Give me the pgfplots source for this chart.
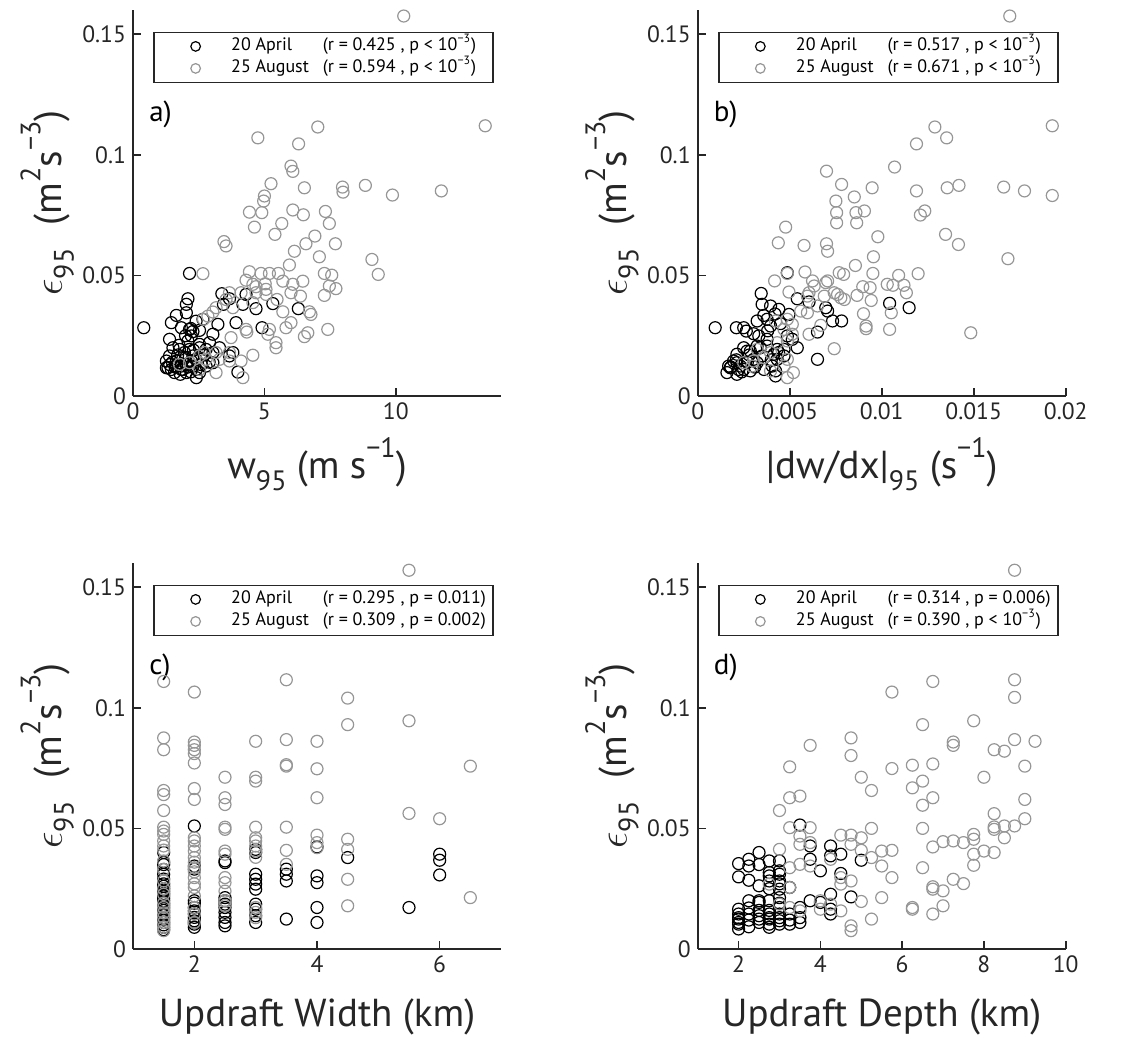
\documentclass[border=0pt]{standalone}
\usepackage{fontspec}
\setmainfont{PT Sans}
\usepackage{pgfplots}
\pgfplotsset{compat=1.18}

\definecolor{axgray}{RGB}{38,38,38}
\definecolor{ptgray}{RGB}{150,150,150}

\newcommand{\lsub}[1]{\raisebox{-0.3em}{\fontsize{14}{14}\selectfont #1}}
\newcommand{\lsup}[1]{\raisebox{0.55em}{\fontsize{14}{14}\selectfont #1}}
\newcommand{\ylab}{$\epsilon$\lsub{95}\hspace{0.6em}(m\lsup{2}s\lsup{−3})}
\newcommand{\ent}[2]{\makebox[128pt][l]{\makebox[45.8pt][l]{#1}#2}}

\pgfplotsset{
  panel/.style={
    scale only axis, width=184pt, height=193pt,
    axis lines=left, axis line style={-, axgray, line width=0.8pt},
    tick align=inside, major tick length=4pt,
    tick style={axgray, line width=0.8pt},
    scaled ticks=false,
    ymin=0, ymax=0.16, ytick={0,0.05,0.1,0.15}, yticklabels={0,0.05,0.1,0.15},
    tick label style={font=\fontsize{11.8}{12}\selectfont, text=axgray},
    label style={font=\fontsize{19.5}{20}\selectfont, text=axgray},
    xlabel style={at={(axis description cs:0.5,-0.176)}, anchor=center},
    ylabel style={at={(axis description cs:-0.233,0.5)}, anchor=center},
    ylabel={\ylab},
    legend style={at={(axis description cs:0.055,0.944)}, anchor=north west,
      draw=axgray, line width=0.8pt, fill=white, inner xsep=0pt, inner ysep=1.5pt,
      row sep=0pt, font=\fontsize{9}{10}\selectfont, text=black,
      nodes={inner xsep=3pt, inner ysep=0pt, text height=7.5pt, text depth=3.5pt},
      /tikz/every even column/.append style={column sep=0pt}},
    legend cell align=left,
    legend image code/.code={\path (0pt,0pt) (35pt,0pt);
      \draw[##1, mark size=2.4pt] plot coordinates {(20.5pt,0pt)};},
  },
  apr/.style={only marks, mark=o, mark size=3pt, black, line width=0.6pt},
  aug/.style={only marks, mark=o, mark size=3pt, ptgray, line width=0.6pt},
}

\begin{document}
\begin{tikzpicture}
\useasboundingbox (0,0) rectangle (572.5pt,-518.5pt);

% a) w95
\begin{axis}[panel, at={(66.5pt,-5pt)}, anchor=north west,
  xmin=0, xmax=14, xtick={0,5,10}, xticklabels={0,5,10},
  xlabel={w\lsub{95} (m s\lsup{−1})}]
\addplot[apr] coordinates {
(0.41,0.0283) (2.15,0.0508) (2.09,0.0403) (2.03,0.038) (3.38,0.0424) (3.67,0.0403)
(3.44,0.038) (4.18,0.038) (4.3,0.0421) (4.68,0.0362) (5.32,0.0383) (6.29,0.0362)
(4.91,0.0283) (1.65,0.0334) (1.46,0.0304) (2.03,0.0345) (1.84,0.0283) (2.15,0.0276)
(2.28,0.0267) (2.53,0.0272) (2.22,0.0249) (2.66,0.0318) (3.04,0.0256) (3.23,0.0297)
(3.92,0.0304) (3.8,0.018) (3.99,0.0099) (3.29,0.020) (2.91,0.0221) (2.53,0.0214)
(1.52,0.020) (1.77,0.0193) (1.39,0.0166) (1.27,0.0145) (1.33,0.0117) (1.58,0.0097)
(1.84,0.011) (2.03,0.0131) (2.28,0.0166) (2.22,0.0145) (2.41,0.011) (2.41,0.0076)
(1.96,0.018) (2.78,0.0124) (3.04,0.0138) (1.65,0.0145) (1.9,0.0159) (1.27,0.0117)
(1.46,0.011) (2.15,0.0193) (2.53,0.0097) (2.03,0.0097) (1.84,0.0124) (2.28,0.0124)
(3.04,0.018) (2.78,0.0193) (1.65,0.0124) (1.39,0.0235) (2.53,0.020) (2.09,0.0228)
(3.67,0.0166) (1.6,0.012) (1.9,0.011) (2.2,0.010) (2.0,0.016) (1.7,0.017)
(2.4,0.015) (2.6,0.013) (1.5,0.014) (2.1,0.012) (1.8,0.009) (2.3,0.019)
(1.4,0.013) (2.7,0.017) (2.0,0.025) (2.4,0.031) (2.9,0.014) (1.75,0.021) (2.2,0.028)
};
\addlegendentry{\ent{20 April}{(r = 0.425 , p < 10\textsuperscript{−3})}}
\addplot[aug] coordinates {
(10.3,0.1575) (13.4,0.112) (7.03,0.1115) (4.75,0.107) (6.3,0.1045) (6.01,0.0953)
(6.08,0.0931) (5.25,0.088) (8.84,0.0873) (7.97,0.0866) (7.99,0.0845) (6.52,0.0863)
(11.73,0.085) (9.87,0.0833) (5.0,0.0829) (4.97,0.0808) (4.43,0.0762) (4.9,0.076)
(6.08,0.0771) (6.48,0.0751) (7.32,0.0765) (5.66,0.0715) (7.47,0.0715) (4.62,0.070)
(5.4,0.067) (6.92,0.0663) (3.46,0.064) (3.54,0.0622) (6.58,0.0631) (7.7,0.0631)
(6.14,0.060) (7.09,0.0577) (9.09,0.0566) (5.95,0.0543) (2.66,0.0507) (4.43,0.0515)
(4.87,0.0508) (5.19,0.0508) (5.53,0.0508) (7.28,0.0508) (7.56,0.0501) (9.33,0.0504)
(4.3,0.048) (4.56,0.0463) (4.68,0.0453) (5.03,0.0465) (5.7,0.0476) (6.08,0.0463)
(6.46,0.0476) (7.47,0.0456) (7.72,0.0445) (6.01,0.0428) (6.37,0.0414) (7.28,0.0417)
(5.06,0.0421) (5.06,0.0442) (4.68,0.0428) (4.56,0.0387) (4.11,0.0428) (5.48,0.040)
(5.7,0.0349) (6.71,0.0349) (6.77,0.0338) (3.67,0.0428) (3.54,0.040) (3.8,0.0366)
(3.16,0.0366) (3.04,0.0348) (2.85,0.0331) (2.68,0.0318) (6.01,0.0304) (5.82,0.0283)
(7.41,0.0276) (4.3,0.0276) (4.33,0.0265) (5.19,0.0276) (5.13,0.0256) (6.65,0.0262)
(6.52,0.0246) (5.44,0.0221) (5.44,0.020) (3.73,0.0242) (3.67,0.018) (4.56,0.0169)
(2.72,0.018) (2.53,0.0166) (2.78,0.0152) (3.16,0.018) (3.29,0.0152) (4.11,0.0145)
(3.67,0.0145) (3.16,0.0097) (4.18,0.0076) (2.53,0.011) (2.15,0.0138) (1.77,0.0131)
};
\addlegendentry{\ent{25 August}{(r = 0.594 , p < 10\textsuperscript{−3})}}
\node[anchor=west, font=\fontsize{14.5}{15}\selectfont] at (axis description cs:0.025,0.73) {a)};
\end{axis}

% b) |dw/dx|95
\begin{axis}[panel, at={(348.85pt,-5pt)}, anchor=north west,
  xmin=0, xmax=0.02, xtick={0,0.005,0.01,0.015,0.02},
  xticklabels={0,0.005,0.01,0.015,0.02},
  xlabel={|dw/dx|\lsub{95} (s\lsup{−1})}]
\addplot[apr] coordinates {
(0.00095,0.0283) (0.00487,0.0511) (0.00345,0.0425) (0.0021,0.0283) (0.0025,0.0283)
(0.00264,0.0269) (0.00304,0.0258) (0.0035,0.038) (0.00396,0.0373) (0.00441,0.0359)
(0.00496,0.0338) (0.00359,0.0334) (0.00377,0.0318) (0.00541,0.0403) (0.00605,0.039)
(0.00696,0.0366) (0.00706,0.0352) (0.00733,0.0311) (0.00782,0.0311) (0.01043,0.0384)
(0.01149,0.0366) (0.00651,0.0265) (0.00651,0.0152) (0.00541,0.020) (0.00514,0.0235)
(0.00432,0.0193) (0.00414,0.0173) (0.00432,0.0152) (0.00405,0.0124) (0.00423,0.0104)
(0.00423,0.0083) (0.00159,0.0097) (0.00168,0.0124) (0.00195,0.0145) (0.00213,0.0173)
(0.00222,0.011) (0.0025,0.011) (0.00286,0.0104) (0.0025,0.020) (0.00286,0.0186)
(0.00323,0.0207) (0.00213,0.0138) (0.00323,0.0138) (0.0035,0.0166) (0.00377,0.0207)
(0.00177,0.0117) (0.00377,0.0235) (0.00332,0.0249) (0.00268,0.0186) (0.00213,0.009)
(0.00469,0.0193) (0.00469,0.0166) (0.00487,0.0249) (0.00396,0.029) (0.00323,0.0311)
(0.00304,0.0152) (0.00232,0.0124) (0.0018,0.012) (0.0024,0.010) (0.0027,0.014)
(0.0031,0.012) (0.0036,0.011) (0.0040,0.015) (0.0044,0.018) (0.0028,0.017)
(0.0034,0.020) (0.0038,0.027) (0.0045,0.030) (0.0021,0.015) (0.0042,0.034)
};
\addlegendentry{\ent{20 April}{(r = 0.517 , p < 10\textsuperscript{−3})}}
\addplot[aug] coordinates {
(0.01696,0.1575) (0.01927,0.112) (0.01289,0.1115) (0.01353,0.107) (0.01189,0.1045)
(0.0107,0.0949) (0.0070,0.0932) (0.00782,0.0877) (0.00948,0.0863) (0.00851,0.0825)
(0.01189,0.085) (0.01356,0.0863) (0.0142,0.0873) (0.01663,0.0866) (0.01776,0.085)
(0.01927,0.0831) (0.00751,0.0808) (0.00755,0.076) (0.00755,0.0718) (0.0086,0.076)
(0.00906,0.0767) (0.00864,0.0718) (0.0121,0.075) (0.01234,0.0767) (0.00478,0.070)
(0.00438,0.0635) (0.00578,0.0624) (0.0070,0.0631) (0.00706,0.060) (0.00979,0.066)
(0.01347,0.067) (0.01417,0.0628) (0.01686,0.0569) (0.00955,0.0577) (0.00857,0.0541)
(0.00583,0.0514) (0.00487,0.0508) (0.00769,0.0511) (0.00793,0.0504) (0.00952,0.0508)
(0.0103,0.0463) (0.01061,0.0459) (0.01092,0.050) (0.01121,0.0459) (0.01134,0.0428)
(0.01198,0.0507) (0.00418,0.0477) (0.00496,0.0431) (0.00596,0.0414) (0.00605,0.0428)
(0.00624,0.0477) (0.00633,0.0456) (0.00696,0.047) (0.00706,0.0477) (0.00688,0.0414)
(0.00742,0.0428) (0.00778,0.0407) (0.0076,0.0421) (0.00866,0.0417) (0.00897,0.0453)
(0.00937,0.0449) (0.00943,0.0396) (0.00901,0.0341) (0.00915,0.029) (0.00915,0.0279)
(0.01043,0.0276) (0.01052,0.0345) (0.01484,0.0262) (0.00742,0.0196) (0.00605,0.0256)
(0.00596,0.0345) (0.00651,0.0373) (0.0056,0.0352) (0.00487,0.0318) (0.00514,0.0297)
(0.00423,0.0311) (0.00469,0.0276) (0.00514,0.0256) (0.00487,0.0228) (0.00432,0.0221)
(0.00396,0.018) (0.00359,0.0159) (0.00323,0.0193) (0.00304,0.0145) (0.00487,0.0152)
(0.00469,0.0124) (0.00487,0.0076) (0.0052,0.0097) (0.00295,0.0124) (0.0025,0.0138)
(0.00396,0.0104) (0.00669,0.0293) (0.00797,0.040)
};
\addlegendentry{\ent{25 August}{(r = 0.671 , p < 10\textsuperscript{−3})}}
\node[anchor=west, font=\fontsize{14.5}{15}\selectfont] at (axis description cs:0.025,0.73) {b)};
\end{axis}

% c) updraft width
\begin{axis}[panel, at={(66.5pt,-281.5pt)}, anchor=north west,
  xmin=1, xmax=7, xtick={2,4,6}, xticklabels={2,4,6},
  xlabel={Updraft Width (km)}]
\addplot[apr] coordinates {
(1.5,0.040) (1.5,0.036) (1.5,0.035) (1.5,0.031) (1.5,0.029) (1.5,0.027) (1.5,0.025)
(1.5,0.023) (1.5,0.021) (1.5,0.019) (1.5,0.017) (1.5,0.015) (1.5,0.013) (1.5,0.012)
(1.5,0.011) (1.5,0.010) (1.5,0.009) (1.5,0.008) (1.5,0.033) (1.5,0.026) (1.5,0.014)
(1.5,0.016) (1.5,0.018) (1.5,0.020) (1.5,0.022) (1.5,0.024)
(2,0.051) (2,0.0344) (2,0.0331) (2,0.020) (2,0.0172) (2,0.0158) (2,0.0145) (2,0.0131)
(2,0.0117) (2,0.0103) (2,0.009) (2,0.019) (2,0.011)
(2.5,0.0365) (2.5,0.0358) (2.5,0.0213) (2.5,0.020) (2.5,0.0186) (2.5,0.0172)
(2.5,0.0152) (2.5,0.0131) (2.5,0.011) (2.5,0.0096)
(3,0.0413) (3,0.040) (3,0.031) (3,0.0289) (3,0.0269) (3,0.0248) (3,0.0186) (3,0.0165)
(3,0.0138) (3,0.011)
(3.5,0.0331) (3.5,0.031) (3.5,0.0282) (3.5,0.0124)
(4,0.0423) (4,0.0303) (4,0.0275) (4,0.0172) (4,0.011)
(4.5,0.0379) (5.5,0.0172) (6,0.0393) (6,0.0368) (6,0.0307)
};
\addlegendentry{\ent{20 April}{(r = 0.295 , p = 0.011)}}
\addplot[aug] coordinates {
(1.5,0.1109) (1.5,0.0875) (1.5,0.0826) (1.5,0.0657) (1.5,0.064) (1.5,0.0574)
(1.5,0.0505) (1.5,0.0489) (1.5,0.0475) (1.5,0.0448) (1.5,0.0427) (1.5,0.0365)
(1.5,0.0282) (1.5,0.0227) (1.5,0.0172) (1.5,0.0131) (1.5,0.0076) (1.5,0.033)
(1.5,0.025) (1.5,0.019) (1.5,0.015) (1.5,0.011) (1.5,0.009) (1.5,0.041)
(2,0.1065) (2,0.0858) (2,0.0844) (2,0.0826) (2,0.081) (2,0.0771) (2,0.0665) (2,0.062)
(2,0.0461) (2,0.0448) (2,0.0427) (2,0.0406) (2,0.0379) (2,0.0337) (2,0.0296)
(2,0.0255) (2,0.0145) (2,0.036) (2,0.032) (2,0.027) (2,0.022) (2,0.017) (2,0.011)
(2.5,0.0712) (2.5,0.0627) (2.5,0.0599) (2.5,0.0505) (2.5,0.0496) (2.5,0.0406)
(2.5,0.0393) (2.5,0.0296) (2.5,0.0275) (2.5,0.020) (2.5,0.018) (2.5,0.024)
(3,0.0861) (3,0.0712) (3,0.0696) (3,0.0505) (3,0.0461) (3,0.0448) (3,0.0427)
(3,0.0406) (3,0.0172) (3,0.0152) (3,0.038) (3,0.013)
(3.5,0.1116) (3.5,0.0868) (3.5,0.0764) (3.5,0.0758) (3.5,0.0505) (3.5,0.0409) (3.5,0.0351)
(4,0.0861) (4,0.0747) (4,0.0627) (4,0.0472) (4,0.0441) (4,0.042)
(4.5,0.104) (4.5,0.093) (4.5,0.0455) (4.5,0.0413) (4.5,0.0289) (4.5,0.0179)
(5.5,0.157) (5.5,0.0946) (5.5,0.0562) (6,0.054) (6.5,0.0758) (6.5,0.0213)
};
\addlegendentry{\ent{25 August}{(r = 0.309 , p = 0.002)}}
\node[anchor=west, font=\fontsize{14.5}{15}\selectfont] at (axis description cs:0.025,0.73) {c)};
\end{axis}

% d) updraft depth
\begin{axis}[panel, at={(348.85pt,-281.5pt)}, anchor=north west,
  xmin=1, xmax=10, xtick={2,4,6,8,10}, xticklabels={2,4,6,8,10},
  xlabel={Updraft Depth (km)}]
\addplot[apr] coordinates {
(2.0,0.0354) (2.0,0.0299) (2.0,0.0165) (2.0,0.0145) (2.0,0.0124) (2.0,0.0103) (2.0,0.0083)
(2.25,0.0372) (2.25,0.0344) (2.25,0.0285) (2.25,0.020) (2.25,0.0145) (2.25,0.0092)
(2.5,0.040) (2.5,0.0262) (2.5,0.020) (2.5,0.0193) (2.5,0.0138) (2.5,0.0124)
(2.75,0.0365) (2.75,0.0317) (2.75,0.0303) (2.75,0.0282) (2.75,0.020) (2.75,0.0145)
(2.75,0.0124) (2.75,0.0103) (2.75,0.009)
(3.0,0.0365) (3.0,0.0324) (3.0,0.031) (3.0,0.0282) (3.0,0.0248) (3.0,0.0213)
(3.0,0.0172) (3.0,0.0145) (3.0,0.0117) (3.0,0.0103)
(3.25,0.0255) (3.25,0.0145) (3.25,0.0103) (3.5,0.0514) (3.5,0.0172) (3.5,0.011)
(3.75,0.0427) (3.75,0.0372) (3.75,0.020) (4.0,0.0324) (4.0,0.0193)
(4.25,0.0427) (4.25,0.0386) (4.25,0.0227) (4.25,0.0165) (4.25,0.0145)
(4.5,0.0393) (4.5,0.0313) (4.75,0.0216) (5.0,0.0368)
(2.0,0.013) (2.25,0.012) (2.5,0.016) (2.75,0.016) (3.0,0.013) (2.5,0.011) (2.25,0.017)
(3.25,0.012) (2.0,0.011) (3.0,0.019) (2.75,0.013) (2.5,0.035) (3.0,0.027) (2.75,0.025)
(3.5,0.013)
};
\addlegendentry{\ent{20 April}{(r = 0.314 , p = 0.006)}}
\addplot[aug] coordinates {
(8.75,0.157) (6.75,0.1109) (5.75,0.1065) (8.75,0.1116) (8.75,0.1043) (6.5,0.093)
(7.75,0.0946) (3.75,0.0844) (4.75,0.0875) (4.75,0.0802) (7.25,0.0858) (7.25,0.0844)
(8.25,0.0826) (8.5,0.082) (8.75,0.0868) (9.25,0.0861) (3.25,0.0755) (5.75,0.0748)
(6.25,0.0762) (6.75,0.0767) (9.0,0.0758) (5.0,0.0712) (8.0,0.0712) (6.5,0.0696)
(5.25,0.0657) (6.25,0.0668) (3.0,0.0574) (3.25,0.0627) (3.5,0.0634) (6.75,0.0627)
(6.5,0.0596) (9.0,0.062) (8.25,0.0561) (9.0,0.054) (3.25,0.0503) (3.75,0.0503)
(5.25,0.050) (6.5,0.050) (8.25,0.0506) (8.25,0.0496) (8.5,0.051) (8.5,0.0461)
(8.75,0.051) (4.5,0.0472) (4.75,0.0472) (5.0,0.0461) (3.5,0.0468) (3.5,0.0434)
(7.0,0.0445) (7.25,0.0448) (7.5,0.0441) (7.75,0.0475) (7.75,0.0455) (6.75,0.0423)
(4.75,0.0434) (3.75,0.0441) (3.0,0.0413) (5.0,0.0409) (5.5,0.0406) (5.75,0.0409)
(8.0,0.0406) (8.25,0.040) (7.75,0.0393) (7.75,0.0347) (5.25,0.0379) (4.25,0.0372)
(3.25,0.0337) (3.5,0.0351) (3.75,0.0344) (5.5,0.0344) (6.5,0.0337) (5.75,0.0296)
(7.25,0.0289) (7.5,0.0271) (4.5,0.0269) (4.75,0.0282) (4.5,0.0296) (6.75,0.0258)
(6.75,0.0248) (7.0,0.0241) (3.25,0.0255) (5.5,0.0213) (5.0,0.0197) (6.25,0.0172)
(6.25,0.0165) (7.0,0.0179) (6.75,0.0145) (4.0,0.0165) (4.5,0.0158) (5.25,0.0124)
(4.75,0.0096) (4.75,0.0076) (3.5,0.0158) (3.25,0.0172) (4.0,0.020) (4.25,0.0186)
(3.0,0.0186) (2.75,0.0269)
};
\addlegendentry{\ent{25 August}{(r = 0.390 , p < 10\textsuperscript{−3})}}
\node[anchor=west, font=\fontsize{14.5}{15}\selectfont] at (axis description cs:0.025,0.73) {d)};
\end{axis}
\end{tikzpicture}
\end{document}
